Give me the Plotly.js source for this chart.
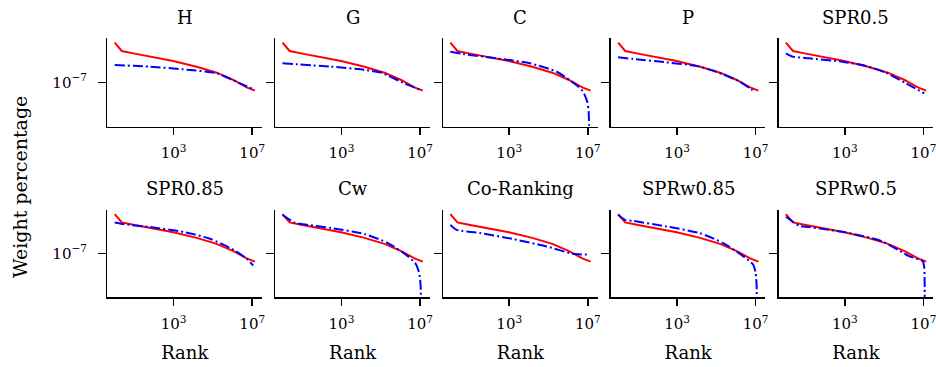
<!DOCTYPE html>
<html>
<head>
<meta charset="utf-8">
<script src="https://cdn.plot.ly/plotly-3.0.1.min.js"></script>
<style>html,body{margin:0;padding:0;background:#fff;}#chart{width:936px;height:367px;}</style>
</head>
<body>
<div id="chart"></div>
<script>
// ---------------- data ----------------
const titles = ['H', 'G', 'C', 'P', 'SPR0.5', 'SPR0.85', 'Cw', 'Co-Ranking', 'SPRw0.85', 'SPRw0.5'];
const xTickVals = [1e3, 1e7];
const xTickText = ['10<sup>3</sup>', '10<sup>7</sup>'];
const yTickVals = [1e-7];
const yTickText = ['10<sup>\u22127</sup>'];

// reference ranking (red, same in every panel)
const redRank   = [1, 2.3, 8.9, 63, 955, 1.48e4, 1.55e5, 1.1e6, 5.2e6, 1.38e7];
const redWeight = [4.8e-5, 1.32e-5, 9.1e-6, 5.5e-6, 2.75e-6, 1.15e-6, 4.5e-7, 1.45e-7, 4.6e-8, 2.75e-8];

// compared rankings (blue dash-dot)
const rankH   = [1, 63, 3100, 1.55e5, 2.4e6, 1.12e7];
const weightH = [1.48e-6, 1.15e-6, 7.6e-7, 4.1e-7, 8.5e-8, 3.4e-8];
const rankG   = [1, 300, 1.48e4, 1.05e5, 1.6e6, 1.15e7];
const weightG = [1.95e-6, 1.15e-6, 6.9e-7, 4.5e-7, 8.5e-8, 3.0e-8];
const rankC   = [1, 4.5, 230, 1.12e4, 2.6e5, 2.6e6, 5.75e6, 9.3e6, 1.1e7, 1.15e7, 1.17e7];
const weightC = [1.17e-5, 8.3e-6, 4.2e-6, 1.95e-6, 5.2e-7, 6.6e-8, 2.3e-8, 4.9e-9, 1.0e-9, 1.3e-10, 1e-11];
const rankP   = [1, 5.8, 290, 9500, 1e5, 1.55e6, 6e6, 8.9e6];
const weightP = [4.9e-6, 3.8e-6, 2.25e-6, 1.3e-6, 5.2e-7, 1.12e-7, 3.4e-8, 2.35e-8];
const rankSPR05   = [1, 2.2, 15.5, 760, 1.17e4, 1.23e5, 1.3e6, 1.1e7];
const weightSPR05 = [9.1e-6, 5.5e-6, 4.2e-6, 2.5e-6, 1.3e-6, 4.5e-7, 8.5e-8, 1.8e-8];
const rankSPR085   = [1, 2.75, 63, 3100, 7.1e4, 1.1e6, 5.2e6, 1.12e7];
const weightSPR085 = [1.29e-5, 1.0e-5, 6.3e-6, 2.9e-6, 1.0e-6, 1.8e-7, 4.3e-8, 1.5e-8];
const rankCw   = [1, 4.1, 19.5, 300, 1.48e4, 2.3e5, 2.4e6, 6.3e6, 9.3e6, 1.07e7, 1.12e7];
const weightCw = [4.3e-5, 1.29e-5, 8.9e-6, 5.4e-6, 2.1e-6, 5.1e-7, 6.5e-8, 1.74e-8, 3.7e-9, 6.0e-10, 1e-11];
const rankCoR   = [1, 2.1, 32, 1600, 7.9e4, 1.8e6, 1.17e7];
const weightCoR = [8.9e-6, 4.1e-6, 2.45e-6, 9.5e-7, 3.0e-7, 9.3e-8, 8.3e-8];
const rankSPRw085   = [1, 2.2, 5.8, 290, 1.4e4, 2.2e5, 2.3e6, 7.4e6, 1e7, 1.12e7, 1.17e7];
const weightSPRw085 = [4.3e-5, 1.95e-5, 1.66e-5, 6.9e-6, 2.45e-6, 5.1e-7, 6.5e-8, 1.74e-8, 4.8e-9, 6.0e-10, 1e-11];
const rankSPRw05   = [1, 2.2, 4.8, 15.5, 1660, 8.3e4, 1.86e6, 9.1e6, 1.1e7, 1.15e7, 1.17e7];
const weightSPRw05 = [3.2e-5, 1.5e-5, 7.6e-6, 6.3e-6, 2.45e-6, 6.6e-7, 6.5e-8, 2.95e-8, 1.05e-8, 1e-9, 1e-11];

const blueRanks   = [rankH, rankG, rankC, rankP, rankSPR05, rankSPR085, rankCw, rankCoR, rankSPRw085, rankSPRw05];
const blueWeights = [weightH, weightG, weightC, weightP, weightSPR05, weightSPR085, weightCw, weightCoR, weightSPRw085, weightSPRw05];

// ---------------- layout ----------------
const W = 936, H = 367;
const FONT = 'DejaVu Serif, serif';
const colZero = [114.7, 282.5, 450.3, 618.1, 785.9];   // pixel of rank 1
const pxPerDec = 19.65;
const xRange = [-0.37, 7.5];
const rowTop = [38, 209.5], rowBot = [126.7, 297.3];
const titleY = [17, 189];

const traces = [];
const layout = {
  width: W, height: H,
  margin: {l: 0, r: 0, t: 0, b: 0},
  paper_bgcolor: '#fff', plot_bgcolor: 'rgba(0,0,0,0)',
  showlegend: false,
  font: {family: FONT, color: '#000', size: 15},
  annotations: []
};

for (let i = 0; i < 10; i++) {
  const r = Math.floor(i / 5), c = i % 5;
  const n = i + 1;
  const xa = n === 1 ? 'x' : 'x' + n, ya = n === 1 ? 'y' : 'y' + n;
  const left = colZero[c] + xRange[0] * pxPerDec;
  const right = colZero[c] + xRange[1] * pxPerDec;
  layout['xaxis' + (n === 1 ? '' : n)] = {
    domain: [left / W, right / W], anchor: ya, type: 'log', range: xRange,
    showgrid: false, zeroline: false, showline: true, linecolor: '#000', linewidth: 1.5,
    ticks: 'outside', ticklen: 7, tickwidth: 1.5, tickcolor: '#000',
    ticklabelstandoff: 5, ticklabeloverflow: 'allow',
    tickmode: 'array', tickvals: xTickVals, ticktext: xTickText,
    tickfont: {family: FONT, size: 15, color: '#000'},
    title: r === 1 ? {text: 'Rank', font: {family: FONT, size: 18, color: '#000'}, standoff: 14} : {text: ''}
  };
  layout['yaxis' + (n === 1 ? '' : n)] = {
    domain: [(H - rowBot[r]) / H, (H - rowTop[r]) / H], anchor: xa, type: 'log', range: [-10, -4],
    showgrid: false, zeroline: false, showline: true, linecolor: '#000', linewidth: 1.5,
    ticks: 'outside', ticklen: 8, tickwidth: 1.5, tickcolor: '#000',
    ticklabelstandoff: 8,
    tickmode: 'array', tickvals: yTickVals, ticktext: yTickText,
    showticklabels: c === 0,
    tickfont: {family: FONT, size: 15, color: '#000'}
  };
  layout.annotations.push({
    text: titles[i], xref: 'paper', yref: 'paper',
    x: ((left + right) / 2) / W, y: (H - titleY[r]) / H,
    xanchor: 'center', yanchor: 'middle', showarrow: false,
    font: {family: FONT, size: 18, color: '#000'}
  });
  traces.push({
    x: redRank, y: redWeight, xaxis: xa, yaxis: ya, mode: 'lines',
    line: {color: '#ff0000', width: 2}, hoverinfo: 'skip'
  });
  traces.push({
    x: blueRanks[i], y: blueWeights[i], xaxis: xa, yaxis: ya, mode: 'lines',
    line: {color: '#0000ff', width: 2, dash: '10px,3px,2px,3px', shape: 'spline', smoothing: 0.6}, hoverinfo: 'skip'
  });
}

layout.annotations.push({
  text: 'Weight percentage', xref: 'paper', yref: 'paper',
  x: 20 / W, y: (H - 187) / H, textangle: -90,
  xanchor: 'center', yanchor: 'middle', showarrow: false,
  font: {family: FONT, size: 19, color: '#000'}
});

Plotly.newPlot('chart', traces, layout, {staticPlot: true, displayModeBar: false});
</script>
</body>
</html>
